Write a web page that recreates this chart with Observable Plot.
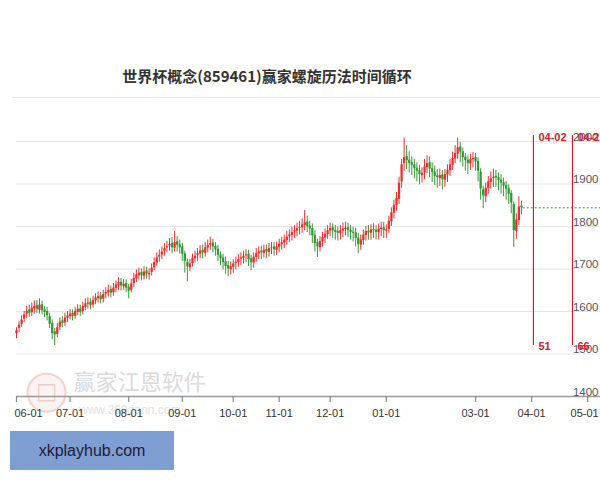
<!DOCTYPE html>
<html><head><meta charset="utf-8">
<script src="https://cdn.jsdelivr.net/npm/d3@7"></script>
<script src="https://cdn.jsdelivr.net/npm/@observablehq/plot@0.6"></script>
<style>
body{margin:0;background:#fff;width:600px;height:480px;position:relative;overflow:hidden;font-family:"Liberation Sans",Arial,sans-serif}
#title{position:absolute;left:0;width:534px;top:64px;text-align:center;font:bold 15px "Noto Sans CJK SC",sans-serif;color:#333;line-height:24px}
#rule{position:absolute;left:12px;right:0;top:97px;height:1px;background:#e8e8e8}
#chart{position:absolute;left:0;top:100px}
#badge{position:absolute;left:10px;top:431px;width:164px;height:39px;background:#7f9fd3;color:#1b1b3b;font:16px "Liberation Sans",Arial,sans-serif;display:flex;align-items:center;justify-content:center}
</style></head>
<body>
<div id="title">世界杯概念(859461)赢家螺旋历法时间循环</div>
<div id="rule"></div>
<div id="chart"></div>
<div id="badge">xkplayhub.com</div>
<script>
// daily candles (trading-day index 0 = 06-01)
const open = [1548,1560,1570,1582,1594,1604,1597,1606,1614,1603,1616,1604,1600,1588,1572,1552,1546,1563,1578,1573,
1584,1588,1596,1589,1598,1606,1600,1610,1617,1622,1615,1625,1630,1637,1629,1641,1644,1652,1644,1654,
1660,1669,1658,1666,1657,1650,1666,1677,1684,1692,1683,1695,1686,1692,1703,1714,1728,1733,1742,1750,
1754,1760,1749,1764,1757,1752,1736,1716,1703,1713,1724,1732,1735,1744,1737,1749,1756,1761,1753,1746,
1733,1726,1717,1708,1698,1704,1713,1715,1723,1725,1731,1735,1724,1714,1727,1735,1742,1737,1746,1739,
1749,1752,1744,1751,1757,1761,1767,1776,1779,1787,1789,1796,1797,1803,1810,1801,1795,1779,1762,1750,
1764,1773,1781,1789,1797,1791,1788,1783,1789,1793,1797,1791,1787,1785,1773,1756,1767,1779,1789,1784,
1793,1791,1785,1793,1797,1789,1793,1811,1831,1849,1864,1905,1948,1965,1956,1950,1945,1937,1931,1920,
1926,1939,1950,1936,1928,1919,1913,1921,1909,1921,1931,1944,1959,1970,1987,1976,1963,1956,1947,1957,
1962,1953,1928,1886,1870,1889,1904,1913,1918,1915,1909,1903,1896,1889,1878,1852,1788,1814,1848];
const high = [1562,1576,1590,1600,1612,1615,1620,1625,1626,1630,1624,1612,1610,1596,1580,1560,1572,1585,1588,1596,
1600,1605,1604,1610,1616,1615,1622,1630,1632,1630,1636,1642,1646,1645,1650,1656,1662,1660,1666,1672,
1680,1678,1675,1674,1664,1676,1690,1698,1702,1700,1705,1704,1700,1712,1726,1738,1745,1752,1760,1765,
1772,1774,1788,1776,1768,1760,1742,1724,1722,1735,1742,1748,1755,1756,1762,1768,1775,1770,1762,1756,
1740,1735,1728,1718,1716,1722,1728,1734,1738,1742,1745,1744,1732,1738,1748,1752,1754,1756,1756,1760,
1762,1762,1763,1770,1774,1780,1788,1792,1798,1802,1808,1812,1818,1838,1824,1812,1806,1790,1770,1776,
1786,1794,1802,1808,1806,1802,1798,1802,1808,1810,1808,1802,1798,1796,1784,1780,1792,1800,1802,1804,
1806,1802,1806,1810,1810,1804,1824,1844,1862,1880,1916,1958,2008,1990,1976,1964,1958,1950,1944,1938,
1958,1966,1964,1950,1942,1934,1935,1932,1934,1945,1958,1975,1990,2008,1998,1985,1972,1966,1970,1974,
1972,1962,1936,1895,1902,1918,1928,1935,1932,1926,1922,1914,1906,1898,1884,1858,1830,1870,1860];
const low = [1536,1550,1562,1574,1584,1586,1588,1594,1596,1594,1592,1586,1578,1560,1534,1520,1538,1555,1562,1565,
1574,1580,1578,1582,1590,1588,1592,1602,1606,1604,1608,1616,1620,1618,1620,1630,1634,1632,1636,1644,
1650,1648,1650,1644,1630,1644,1656,1668,1674,1672,1674,1676,1674,1684,1696,1706,1716,1722,1730,1738,
1742,1736,1740,1740,1735,1718,1690,1670,1694,1705,1714,1718,1724,1724,1728,1738,1744,1738,1730,1718,
1708,1698,1688,1682,1686,1690,1698,1704,1708,1712,1715,1706,1696,1702,1716,1722,1722,1726,1724,1728,
1734,1730,1732,1738,1744,1748,1756,1762,1766,1772,1776,1780,1784,1790,1786,1778,1760,1740,1727,1740,
1752,1760,1770,1776,1772,1768,1766,1768,1774,1778,1774,1768,1764,1752,1736,1744,1756,1766,1768,1768,
1772,1768,1768,1776,1772,1772,1784,1800,1818,1836,1852,1890,1930,1934,1926,1920,1912,1905,1898,1902,
1910,1925,1915,1904,1896,1890,1894,1886,1892,1904,1918,1932,1948,1958,1950,1940,1930,1922,1932,1938,
1930,1905,1862,1842,1856,1876,1888,1892,1892,1884,1876,1870,1862,1852,1830,1751,1770,1802,1828];
const close = [1555,1568,1580,1592,1600,1595,1608,1612,1605,1615,1602,1598,1590,1570,1548,1545,1562,1575,1572,1585,
1590,1594,1588,1600,1605,1598,1612,1618,1620,1614,1626,1632,1635,1628,1640,1645,1650,1643,1655,1662,
1668,1660,1664,1655,1648,1665,1678,1686,1690,1684,1693,1688,1690,1702,1715,1726,1732,1740,1748,1752,
1758,1750,1762,1756,1750,1735,1718,1705,1712,1725,1730,1736,1742,1738,1750,1755,1760,1752,1745,1732,
1724,1715,1706,1700,1705,1712,1716,1722,1726,1730,1733,1722,1715,1728,1736,1740,1738,1744,1740,1748,
1750,1745,1752,1758,1762,1768,1775,1780,1786,1790,1795,1798,1804,1808,1800,1794,1778,1760,1752,1765,
1774,1782,1790,1795,1790,1786,1784,1790,1794,1796,1790,1786,1784,1772,1758,1768,1780,1788,1785,1792,
1790,1786,1794,1796,1790,1792,1812,1832,1850,1866,1902,1945,1962,1955,1948,1944,1936,1930,1922,1925,
1940,1948,1935,1927,1918,1915,1920,1910,1922,1932,1945,1960,1972,1985,1975,1962,1955,1948,1958,1960,
1952,1930,1888,1872,1890,1905,1912,1916,1914,1908,1902,1895,1888,1876,1855,1790,1815,1846,1844];

const tickLabels = ["06-01","07-01","08-01","09-01","10-01","11-01","12-01","01-01","03-01","04-01","05-01"];
const tickIdx = [0,21,44,65,85,103,123,145,180,202,224];
const yTicks = [1400,1500,1600,1700,1800,1900,2000];
const cycleDates = ["04-02","04-22"];
const cycleIdx = [202.7,218];
const cycleCounts = ["51","66"];

const RED = "#e5322f", GREEN = "#359a35", CYC = "#d3202b";
const candles = close.map((c, i) => ({i, o: open[i], h: high[i], l: low[i], c}));
const ticks = tickLabels.map((t, k) => ({t, x: tickIdx[k]}));
const cycles = cycleDates.map((d, k) => ({d, x: cycleIdx[k], n: cycleCounts[k]}));
const col = d => d.c >= d.o ? RED : GREEN;
const XMAX = 229;
const nT = ticks.length;

const svg = Plot.plot({
  width: 600, height: 330,
  marginTop: 41, marginBottom: 34, marginLeft: 16, marginRight: 0,
  x: {domain: [0, XMAX], axis: null},
  y: {domain: [1400, 2000], axis: null},
  style: {background: "transparent", fontFamily: "'Liberation Sans', Arial, sans-serif", overflow: "visible"},
  marks: [
    Plot.ruleY(yTicks.slice(1), {stroke: "#e6e6e6", strokeWidth: 1}),
    // watermark
    Plot.dot([{x: 11.8, y: 1409}], {x: "x", y: "y", r: 19, stroke: "#f0d2d2", strokeWidth: 2, fill: "#fbf3f3"}),
    Plot.dot([{x: 11.8, y: 1409}], {x: "x", y: "y", r: 9, symbol: "square", stroke: "#efcccc", strokeWidth: 1.5, fill: "none"}),
    Plot.text([{x: 22.4, y: 1431, t: "赢家江恩软件"}], {x: "x", y: "y", text: "t", textAnchor: "start", fontSize: 22, fill: "#dadada", fontFamily: "Noto Sans CJK SC"}),
    Plot.text([{x: 24.5, y: 1369, t: "www.360gann.com"}], {x: "x", y: "y", text: "t", textAnchor: "start", fontSize: 12, fill: "#e2e2e2"}),
    // x axis
    Plot.ruleY([1400], {stroke: "#9a9a9a", strokeWidth: 1.5}),
    Plot.ruleX(ticks, {x: "x", y1: 1400, y2: 1386, stroke: "#888", strokeWidth: 1.2}),
    Plot.text(ticks.slice(0, 1), {x: "x", y: 1400, text: "t", dy: 17, dx: -2, textAnchor: "start", fontSize: 11, fill: "#333"}),
    Plot.text(ticks.slice(1, nT - 1), {x: "x", y: 1400, text: "t", dy: 17, fontSize: 11, fill: "#333"}),
    Plot.text(ticks.slice(nT - 1), {x: "x", y: 1400, text: "t", dy: 17, dx: 11, textAnchor: "end", fontSize: 11, fill: "#333"}),
    // y labels inside right
    Plot.text(yTicks, {x: XMAX, y: d => d, text: d => String(d), textAnchor: "end", lineAnchor: "bottom", dx: -2, dy: -1, fontSize: 11.5, fill: "#555"}),
    // candles
    Plot.ruleX(candles, {x: "i", y1: "l", y2: "h", stroke: col, strokeWidth: 1}),
    Plot.ruleX(candles, {x: "i", y1: "o", y2: "c", stroke: col, strokeWidth: 2.3}),
    // last price
    Plot.ruleY([close[close.length - 1]], {x1: close.length - 0.3, x2: XMAX, stroke: GREEN, strokeWidth: 1, strokeDasharray: "2,2"}),
    // cycle lines
    Plot.ruleX(cycles, {x: "x", y1: 1520, y2: 2014, stroke: CYC, strokeWidth: 1.2}),
    Plot.text(cycles, {x: "x", y: 2009, text: "d", dx: 5, textAnchor: "start", fontSize: 11, fontWeight: "bold", fill: CYC}),
    Plot.text(cycles, {x: "x", y: 1518, text: "n", dx: 5, textAnchor: "start", fontSize: 11, fontWeight: "bold", fill: CYC})
  ]
});
document.getElementById("chart").appendChild(svg);
</script>
</body></html>
